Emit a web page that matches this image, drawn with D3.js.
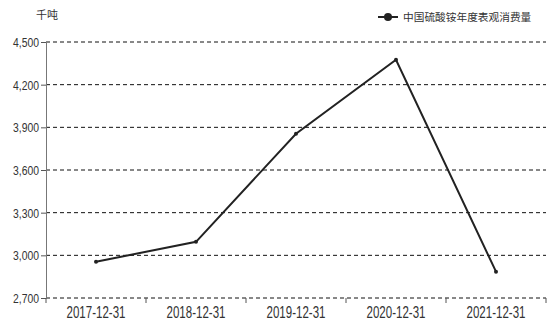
<!DOCTYPE html>
<html>
<head>
<meta charset="utf-8">
<script src="https://cdn.jsdelivr.net/npm/d3@7"></script>
<style>
  body { margin: 0; background: #fff; }
  text { font-family: "Liberation Sans", "Noto Sans CJK SC", sans-serif; }
</style>
</head>
<body>
<div id="chart"></div>
<script>
const categories = ["2017-12-31", "2018-12-31", "2019-12-31", "2020-12-31", "2021-12-31"];
const values = [2955, 3095, 3855, 4375, 2885];
const yTicks = [2700, 3000, 3300, 3600, 3900, 4200, 4500];
const seriesName = "中国硫酸铵年度表观消费量";
const unit = "千吨";

const margin = { top: 42, right: 8, bottom: 28, left: 46 },
    width = 554 - margin.left - margin.right,
    height = 326 - margin.top - margin.bottom;

const svg = d3.select("#chart")
    .append("svg")
    .attr("width", 554)
    .attr("height", 326)
    .append("g")
    .attr("transform", `translate(${margin.left},${margin.top})`);

const x = d3.scaleBand()
    .domain(categories)
    .range([0, width]);

const y = d3.scaleLinear()
    .domain([2700, 4500])
    .range([height, 0]);

// dashed grid lines
svg.append("g")
    .selectAll("line")
    .data(yTicks)
    .enter()
    .append("line")
    .attr("x1", 0)
    .attr("x2", width)
    .attr("y1", d => y(d))
    .attr("y2", d => y(d))
    .attr("stroke", "#111")
    .attr("stroke-width", 1)
    .attr("stroke-dasharray", "4,3");

// y axis
const yAxis = svg.append("g")
    .call(d3.axisLeft(y).tickValues(yTicks).tickSize(5).tickFormat(""));
yAxis.select(".domain").attr("stroke", "#777");
yAxis.selectAll(".tick line").attr("stroke", "#555");
yAxis.selectAll(".tick")
    .append("text")
    .attr("transform", "translate(-7,0) scale(0.8,1)")
    .attr("dy", "0.35em")
    .attr("text-anchor", "end")
    .attr("fill", "#333")
    .style("font-size", "13px")
    .text(d => d3.format(",")(d));

// x axis: ticks at band boundaries
const xAxis = svg.append("g")
    .attr("transform", `translate(0,${height})`);
xAxis.selectAll("line")
    .data(categories.concat([null]))
    .enter()
    .append("line")
    .attr("x1", (d, i) => i * x.step())
    .attr("x2", (d, i) => i * x.step())
    .attr("y1", 0)
    .attr("y2", 5)
    .attr("stroke", "#555");
xAxis.selectAll("text")
    .data(categories)
    .enter()
    .append("text")
    .attr("transform", d => `translate(${x(d) + x.bandwidth() / 2},20) scale(0.72,1)`)
    .attr("text-anchor", "middle")
    .attr("fill", "#333")
    .style("font-size", "16px")
    .text(d => d);

// line
const line = d3.line()
    .x((d, i) => x(categories[i]) + x.bandwidth() / 2)
    .y(d => y(d));

svg.append("path")
    .datum(values)
    .attr("fill", "none")
    .attr("stroke", "#222")
    .attr("stroke-width", 2)
    .attr("d", line);

svg.selectAll(".pt")
    .data(values)
    .enter()
    .append("circle")
    .attr("class", "pt")
    .attr("cx", (d, i) => x(categories[i]) + x.bandwidth() / 2)
    .attr("cy", d => y(d))
    .attr("r", 2)
    .attr("fill", "#222");

// unit label
svg.append("text")
    .attr("x", -10)
    .attr("y", -23)
    .attr("fill", "#333")
    .style("font-size", "11px")
    .text(unit);

// legend
const legend = svg.append("g")
    .attr("transform", `translate(${378 - margin.left},${17 - margin.top})`);
legend.append("line")
    .attr("x1", 0).attr("x2", 20)
    .attr("y1", 0).attr("y2", 0)
    .attr("stroke", "#222").attr("stroke-width", 2);
legend.append("circle")
    .attr("cx", 10).attr("cy", 0).attr("r", 4)
    .attr("fill", "#222");
legend.append("text")
    .attr("x", 25)
    .attr("y", 4)
    .attr("fill", "#333")
    .style("font-size", "10.7px")
    .text(seriesName);
</script>
</body>
</html>
